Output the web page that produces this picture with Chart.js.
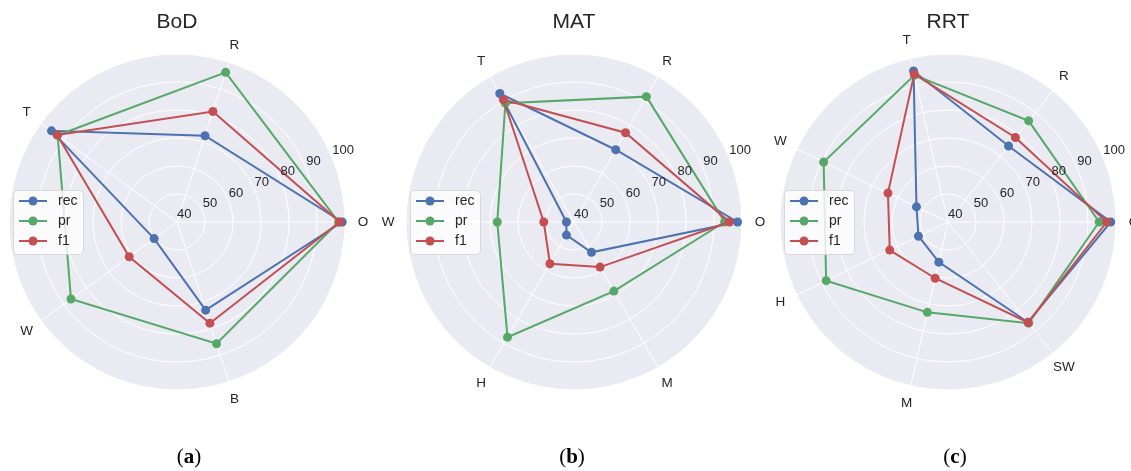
<!DOCTYPE html>
<html>
<head>
<meta charset="utf-8">
<script src="https://cdn.jsdelivr.net/npm/chart.js@4.4.1/dist/chart.umd.min.js"></script>
<style>
  html, body { margin: 0; padding: 0; background: #ffffff; }
  body { width: 1131px; height: 471px; position: relative; overflow: hidden; }
  .panel { position: absolute; top: 0; width: 420px; height: 471px; }
  .cap { position: absolute; top: 443px; transform: translateX(-50%);
         font-family: "Liberation Serif", "DejaVu Serif", serif; font-size: 21px; color: #000; line-height: 26px; }
</style>
</head>
<body>
<div class="panel" style="left:-33px"><canvas id="bod"></canvas></div>
<div class="panel" style="left:364px"><canvas id="mat"></canvas></div>
<div class="panel" style="left:738px"><canvas id="rrt"></canvas></div>
<div class="cap" style="left:189px">(<b>a</b>)</div>
<div class="cap" style="left:572px">(<b>b</b>)</div>
<div class="cap" style="left:955px">(<b>c</b>)</div>

<script>
// Radial ticks shared by all three panels
const radialTicks = [40, 50, 60, 70, 80, 90, 100];

// BoD
const bodAxes = ['O', 'R', 'T', 'W', 'B'];
const bodRec  = [99.0, 72.4, 95.4, 50.1, 73.1];
const bodPr   = [97.7, 96.2, 92.7, 86.8, 85.7];
const bodF1   = [98.1, 81.5, 92.9, 61.1, 78.0];

// MAT
const matAxes = ['O', 'R', 'T', 'W', 'H', 'M'];
const matRec  = [98.4, 69.8, 93.0, 42.7, 45.4, 52.5];
const matPr   = [93.8, 91.7, 89.0, 67.4, 87.5, 68.5];
const matF1   = [95.5, 76.8, 90.4, 50.8, 57.2, 58.6];

// RRT
const rrtAxes = ['O', 'R', 'T', 'W', 'H', 'M', 'SW'];
const rrtRec  = [98.1, 74.7, 95.3, 52.5, 51.7, 54.7, 85.8];
const rrtPr   = [94.0, 86.2, 93.8, 89.3, 88.3, 73.1, 86.2];
const rrtF1   = [96.7, 78.6, 94.2, 63.8, 63.1, 60.6, 85.9];

const BLUE = '#4C72B0', GREEN = '#55A868', RED = '#C44E52';
const TEXT = '#262626';
const SANS = '"Liberation Sans", Arial, "DejaVu Sans", sans-serif';

// Background disc, titles, axis labels, radial tick labels and legend
const decor = {
  id: 'decor',
  beforeDraw(chart) {
    const s = chart.scales.r, ctx = chart.ctx;
    ctx.save();
    ctx.beginPath();
    ctx.arc(s.xCenter, s.yCenter, s.drawingArea, 0, Math.PI * 2);
    ctx.fillStyle = '#EAEAF2';
    ctx.fill();
    ctx.restore();
  },
  afterDatasetsDraw(chart, args, opts) {
    const s = chart.scales.r, ctx = chart.ctx;
    ctx.save();
    ctx.fillStyle = TEXT;

    // title
    ctx.font = '21px ' + SANS;
    ctx.textAlign = 'center';
    ctx.textBaseline = 'middle';
    ctx.fillText(opts.title, s.xCenter, s.yCenter - 200);

    // category labels around the disc
    ctx.font = '13.5px ' + SANS;
    chart.data.labels.forEach((lab, i) => {
      const p = s.getPointPosition(i, s.drawingArea + 18);
      ctx.fillText(lab, p.x, p.y);
    });

    // radial tick labels along 22.5 degrees
    ctx.font = '13px ' + SANS;
    ctx.textAlign = 'left';
    ctx.textBaseline = 'bottom';
    const a = -22.5 * Math.PI / 180;
    radialTicks.forEach(v => {
      const d = s.getDistanceFromCenterForValue(v);
      ctx.fillText(String(v), s.xCenter + Math.cos(a) * d, s.yCenter + Math.sin(a) * d - 1);
    });
    ctx.restore();
  },
  afterDraw(chart) {
    const s = chart.scales.r, ctx = chart.ctx;
    const left = s.xCenter - 164, top = s.yCenter - 32, w = 70, h = 64;
    ctx.save();
    ctx.beginPath();
    ctx.roundRect(left + 0.5, top + 0.5, w, h, 4);
    ctx.fillStyle = 'rgba(255,255,255,0.8)';
    ctx.fill();
    ctx.strokeStyle = 'rgba(210,210,210,0.8)';
    ctx.lineWidth = 1;
    ctx.stroke();
    // entries in dataset order
    ctx.font = '14px ' + SANS;
    ctx.textAlign = 'left';
    ctx.textBaseline = 'middle';
    chart.data.datasets.forEach((ds, i) => {
      const y = top + 11 + i * 20;
      ctx.strokeStyle = ds.borderColor;
      ctx.lineWidth = 2;
      ctx.beginPath();
      ctx.moveTo(left + 6, y);
      ctx.lineTo(left + 34, y);
      ctx.stroke();
      ctx.beginPath();
      ctx.arc(left + 20, y, 4.5, 0, Math.PI * 2);
      ctx.fillStyle = ds.borderColor;
      ctx.fill();
      ctx.fillStyle = TEXT;
      ctx.fillText(ds.label, left + 45, y + 0.5);
    });
    ctx.restore();
  }
};

function series(label, data, color, order) {
  return {
    label, data, order,
    borderColor: color,
    backgroundColor: color,
    pointBackgroundColor: color,
    pointBorderColor: color,
    pointBorderWidth: 0,
    pointRadius: 4.5,
    borderWidth: 2,
    fill: false
  };
}

// Chart.js walks the categories clockwise from the start angle;
// the panels run counter-clockwise from the right, so the order is mirrored.
function makeRadar(id, title, axes, rec, pr, f1) {
  const idx = axes.map((_, i) => (i === 0 ? 0 : axes.length - i));
  const pick = arr => idx.map(i => arr[i]);
  new Chart(document.getElementById(id), {
    type: 'radar',
    data: {
      labels: pick(axes),
      datasets: [
        series('rec', pick(rec), BLUE, 2),
        series('pr', pick(pr), GREEN, 1),
        series('f1', pick(f1), RED, 0)
      ]
    },
    options: {
      responsive: true,
      maintainAspectRatio: false,
      animation: false,
      layout: { padding: { left: 42, right: 42, top: 54, bottom: 81 } },
      plugins: {
        legend: { display: false },
        tooltip: { enabled: false },
        decor: { title }
      },
      scales: {
        r: {
          min: radialTicks[0],
          max: radialTicks[radialTicks.length - 1],
          startAngle: 90,
          ticks: { display: false, stepSize: 10 },
          grid: { circular: true, color: '#ffffff', lineWidth: 1 },
          angleLines: { color: '#ffffff', lineWidth: 1 },
          pointLabels: { display: false }
        }
      }
    },
    plugins: [decor]
  });
}

makeRadar('bod', 'BoD', bodAxes, bodRec, bodPr, bodF1);
makeRadar('mat', 'MAT', matAxes, matRec, matPr, matF1);
makeRadar('rrt', 'RRT', rrtAxes, rrtRec, rrtPr, rrtF1);
</script>
</body>
</html>
